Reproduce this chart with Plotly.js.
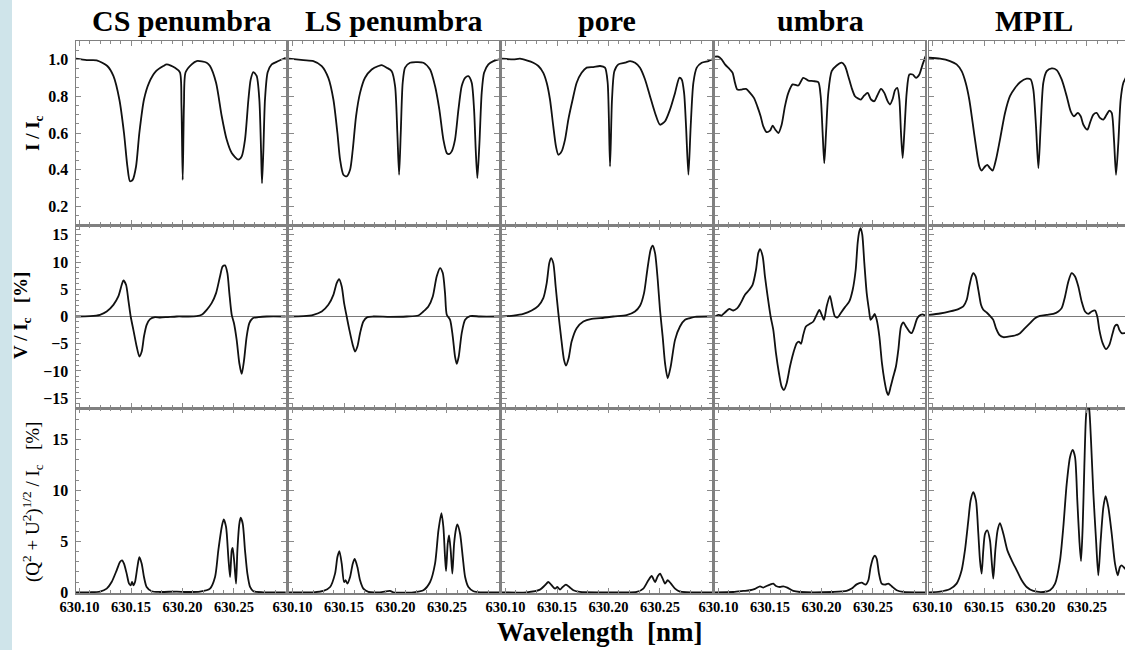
<!DOCTYPE html>
<html>
<head>
<meta charset="utf-8">
<script src="https://cdn.plot.ly/plotly-3.0.1.min.js"></script>
<style>
html,body{margin:0;padding:0;background:#fff;overflow:hidden;}
#chart{width:1125px;height:650px;}
</style>
</head>
<body>
<div id="chart"></div>
<script>
// ---------- data: [wavelength (nm), value] ----------
const columnTitles = ['CS penumbra', 'LS penumbra', 'pore', 'umbra', 'MPIL'];
const xTickVals = [630.10, 630.15, 630.20, 630.25];
const xTickText = ['630.10', '630.15', '630.20', '630.25'];

// Row 1: I / Ic
const CS_I = [[630.0966,1.004],[630.1070,0.996],[630.1167,0.995],[630.1270,0.964],[630.1329,0.910],[630.1387,0.782],[630.1432,0.600],[630.1465,0.418],[630.1490,0.338],[630.1516,0.345],[630.1549,0.418],[630.1581,0.600],[630.1626,0.782],[630.1675,0.873],[630.1743,0.936],[630.1814,0.964],[630.1847,0.973],[630.1927,0.955],[630.1975,0.930],[630.1990,0.750],[630.2002,0.345],[630.2014,0.750],[630.2030,0.930],[630.2089,0.973],[630.2138,0.991],[630.2235,0.982],[630.2267,0.964],[630.2326,0.873],[630.2381,0.691],[630.2429,0.564],[630.2478,0.491],[630.2542,0.455],[630.2575,0.473],[630.2607,0.564],[630.2640,0.782],[630.2662,0.890],[630.2688,0.931],[630.2720,0.910],[630.2746,0.782],[630.2763,0.500],[630.2772,0.327],[630.2785,0.500],[630.2801,0.782],[630.2827,0.930],[630.2866,0.973],[630.2931,0.991],[630.3002,1.009]];
const LS_I = [[630.0966,1.004],[630.1106,0.996],[630.1203,0.991],[630.1284,0.964],[630.1348,0.900],[630.1397,0.782],[630.1436,0.600],[630.1462,0.455],[630.1494,0.373],[630.1526,0.364],[630.1559,0.400],[630.1585,0.509],[630.1617,0.691],[630.1656,0.818],[630.1704,0.900],[630.1769,0.945],[630.1834,0.964],[630.1866,0.969],[630.1915,0.955],[630.1963,0.936],[630.1996,0.855],[630.2018,0.600],[630.2035,0.373],[630.2051,0.600],[630.2070,0.873],[630.2093,0.955],[630.2141,0.982],[630.2206,0.985],[630.2271,0.982],[630.2336,0.945],[630.2384,0.855],[630.2426,0.727],[630.2465,0.564],[630.2498,0.491],[630.2520,0.485],[630.2546,0.500],[630.2578,0.564],[630.2611,0.727],[630.2643,0.855],[630.2676,0.900],[630.2708,0.909],[630.2740,0.873],[630.2763,0.727],[630.2779,0.509],[630.2795,0.355],[630.2815,0.545],[630.2837,0.818],[630.2860,0.927],[630.2902,0.973],[630.2951,0.991],[630.3006,1.000]];
const PORE_I = [[630.0966,1.004],[630.1076,1.000],[630.1141,1.004],[630.1205,0.995],[630.1270,0.982],[630.1319,0.964],[630.1367,0.927],[630.1400,0.873],[630.1432,0.782],[630.1464,0.636],[630.1490,0.527],[630.1513,0.482],[630.1545,0.500],[630.1578,0.564],[630.1610,0.673],[630.1652,0.782],[630.1691,0.873],[630.1739,0.927],[630.1788,0.955],[630.1853,0.958],[630.1918,0.964],[630.1966,0.955],[630.1992,0.873],[630.2015,0.418],[630.2034,0.782],[630.2057,0.936],[630.2096,0.973],[630.2160,0.982],[630.2209,0.991],[630.2258,0.982],[630.2306,0.955],[630.2355,0.891],[630.2403,0.800],[630.2452,0.709],[630.2500,0.645],[630.2549,0.664],[630.2597,0.727],[630.2646,0.818],[630.2688,0.900],[630.2711,0.891],[630.2734,0.818],[630.2753,0.636],[630.2776,0.373],[630.2798,0.636],[630.2824,0.873],[630.2857,0.955],[630.2905,0.982],[630.2970,0.991],[630.3009,1.000]];
const UMBRA_I = [[630.0966,1.015],[630.0998,1.015],[630.1030,1.000],[630.1063,0.973],[630.1111,0.945],[630.1137,0.927],[630.1160,0.873],[630.1183,0.836],[630.1225,0.836],[630.1267,0.840],[630.1306,0.818],[630.1344,0.791],[630.1377,0.745],[630.1409,0.691],[630.1435,0.636],[630.1467,0.605],[630.1500,0.613],[630.1526,0.640],[630.1552,0.618],[630.1581,0.600],[630.1613,0.645],[630.1645,0.745],[630.1678,0.818],[630.1720,0.864],[630.1775,0.858],[630.1823,0.900],[630.1872,0.885],[630.1921,0.882],[630.1969,0.876],[630.1992,0.800],[630.2011,0.600],[630.2027,0.436],[630.2044,0.600],[630.2066,0.818],[630.2099,0.936],[630.2147,0.967],[630.2196,0.982],[630.2228,0.964],[630.2260,0.909],[630.2293,0.845],[630.2325,0.800],[630.2358,0.787],[630.2383,0.782],[630.2416,0.804],[630.2448,0.818],[630.2481,0.782],[630.2513,0.773],[630.2542,0.804],[630.2578,0.840],[630.2610,0.818],[630.2642,0.773],[630.2665,0.755],[630.2691,0.785],[630.2714,0.833],[630.2736,0.845],[630.2756,0.782],[630.2772,0.600],[630.2788,0.464],[630.2804,0.600],[630.2827,0.818],[630.2853,0.918],[630.2885,0.918],[630.2918,0.900],[630.2950,0.918],[630.2982,0.973],[630.3011,1.018]];
const MPIL_I = [[630.0966,1.009],[630.1073,1.004],[630.1170,0.991],[630.1234,0.973],[630.1283,0.936],[630.1322,0.873],[630.1357,0.782],[630.1390,0.655],[630.1422,0.527],[630.1455,0.418],[630.1477,0.396],[630.1510,0.418],[630.1532,0.427],[630.1558,0.409],[630.1584,0.396],[630.1616,0.455],[630.1655,0.564],[630.1704,0.709],[630.1752,0.800],[630.1801,0.845],[630.1850,0.876],[630.1914,0.895],[630.1953,0.891],[630.1979,0.836],[630.2005,0.636],[630.2028,0.409],[630.2050,0.636],[630.2076,0.873],[630.2109,0.936],[630.2157,0.951],[630.2206,0.942],[630.2254,0.891],[630.2303,0.800],[630.2342,0.718],[630.2374,0.691],[630.2410,0.709],[630.2439,0.691],[630.2465,0.645],[630.2504,0.618],[630.2529,0.655],[630.2562,0.700],[630.2594,0.709],[630.2626,0.682],[630.2659,0.673],[630.2691,0.700],[630.2717,0.722],[630.2740,0.709],[630.2762,0.564],[630.2782,0.373],[630.2804,0.545],[630.2827,0.782],[630.2853,0.873],[630.2869,0.891],[630.2900,0.930]];

// Row 2: V / Ic [%]
const CS_V = [[630.0966,0],[630.1102,0.06],[630.1199,0.31],[630.1264,0.92],[630.1329,2.14],[630.1377,3.68],[630.1410,5.82],[630.1426,6.62],[630.1452,5.82],[630.1474,3.06],[630.1497,0],[630.1523,-2.45],[630.1555,-5.51],[630.1581,-7.35],[630.1604,-6.43],[630.1626,-3.68],[630.1652,-1.53],[630.1685,-0.49],[630.1733,-0.12],[630.1782,-0.18],[630.1847,-0.12],[630.1944,0],[630.2041,0],[630.2138,0.06],[630.2186,0.31],[630.2235,1.23],[630.2283,2.45],[630.2326,4.29],[630.2364,7.35],[630.2390,9.19],[630.2413,9.38],[630.2436,7.97],[630.2455,4.29],[630.2478,0.31],[630.2500,-1.23],[630.2526,-4.29],[630.2552,-8.58],[630.2575,-10.54],[630.2598,-7.97],[630.2623,-3.68],[630.2649,-1.23],[630.2682,-0.31],[630.2737,-0.12],[630.2818,0],[630.3002,0]];
const LS_V = [[630.0966,0],[630.1106,0.06],[630.1203,0.31],[630.1284,0.92],[630.1348,2.14],[630.1397,3.98],[630.1429,6.13],[630.1452,6.86],[630.1478,5.51],[630.1501,2.45],[630.1526,0],[630.1552,-2.45],[630.1585,-5.21],[630.1607,-6.43],[630.1630,-5.51],[630.1656,-3.06],[630.1688,-0.92],[630.1727,-0.12],[630.1785,0],[630.1947,-0.06],[630.2109,0],[630.2222,0.18],[630.2271,0.92],[630.2319,1.84],[630.2362,3.68],[630.2400,7.35],[630.2433,8.88],[630.2459,7.97],[630.2481,4.29],[630.2498,0.31],[630.2530,-0.61],[630.2556,-3.68],[630.2578,-7.35],[630.2595,-8.70],[630.2614,-7.35],[630.2643,-3.06],[630.2676,-0.61],[630.2724,0.06],[630.2821,0],[630.3006,0]];
const PORE_V = [[630.0966,0],[630.1076,0.18],[630.1173,0.49],[630.1254,1.10],[630.1319,1.96],[630.1367,3.37],[630.1400,6.13],[630.1425,9.80],[630.1442,10.72],[630.1464,9.80],[630.1487,5.51],[630.1513,0.61],[630.1539,-3.68],[630.1568,-7.97],[630.1587,-9.01],[630.1613,-7.66],[630.1642,-4.60],[630.1691,-2.14],[630.1756,-0.92],[630.1837,-0.43],[630.1918,-0.31],[630.2047,0],[630.2176,0.25],[630.2257,0.92],[630.2306,1.96],[630.2345,4.29],[630.2377,8.58],[630.2409,12.25],[630.2429,12.99],[630.2452,11.64],[630.2478,6.74],[630.2500,1.23],[630.2526,-3.68],[630.2549,-8.58],[630.2575,-11.34],[630.2604,-9.19],[630.2646,-4.29],[630.2694,-1.84],[630.2743,-0.61],[630.2791,-0.31],[630.2840,-0.06],[630.3009,0]];
const UMBRA_V = [[630.0966,0],[630.0998,0.31],[630.1030,0.18],[630.1063,0.74],[630.1105,1.41],[630.1144,1.10],[630.1183,1.53],[630.1215,2.45],[630.1257,3.98],[630.1299,4.90],[630.1331,5.82],[630.1364,8.58],[630.1386,11.64],[630.1403,12.38],[630.1429,11.03],[630.1451,7.35],[630.1477,3.68],[630.1506,0],[630.1532,-2.45],[630.1558,-6.74],[630.1587,-10.42],[630.1613,-12.87],[630.1636,-13.48],[630.1662,-12.25],[630.1694,-9.19],[630.1726,-6.74],[630.1759,-4.90],[630.1781,-4.60],[630.1801,-5.02],[630.1823,-3.37],[630.1849,-1.84],[630.1888,-1.35],[630.1921,-0.92],[630.1953,0.31],[630.1979,1.23],[630.2002,0.31],[630.2024,-0.61],[630.2050,1.84],[630.2082,3.80],[630.2105,1.84],[630.2131,0],[630.2157,-0.18],[630.2186,0.61],[630.2228,1.72],[630.2270,2.76],[630.2303,4.90],[630.2332,8.58],[630.2351,13.48],[630.2367,15.63],[630.2380,16.24],[630.2396,15.01],[630.2416,9.80],[630.2439,4.29],[630.2461,1.23],[630.2477,-0.61],[630.2497,-0.12],[630.2516,0.49],[630.2536,-0.61],[630.2562,-3.68],[630.2587,-8.58],[630.2610,-11.64],[630.2633,-13.79],[630.2649,-14.40],[630.2672,-12.87],[630.2697,-11.03],[630.2723,-9.19],[630.2746,-6.13],[630.2772,-1.84],[630.2795,-1.10],[630.2820,-1.84],[630.2853,-2.76],[630.2875,-3.06],[630.2898,-2.14],[630.2930,-0.31],[630.2963,0.31],[630.2995,0.31],[630.3011,0]];
const MPIL_V = [[630.0966,0.31],[630.1073,0.55],[630.1170,0.92],[630.1251,1.35],[630.1299,1.84],[630.1332,3.06],[630.1357,5.51],[630.1380,7.35],[630.1396,7.97],[630.1419,7.35],[630.1445,4.90],[630.1471,2.14],[630.1493,1.23],[630.1526,0.74],[630.1558,0.12],[630.1590,-0.61],[630.1616,-2.14],[630.1649,-3.37],[630.1688,-3.80],[630.1736,-3.68],[630.1801,-3.49],[630.1850,-3.06],[630.1898,-2.14],[630.1947,-1.23],[630.1995,-0.31],[630.2044,0.12],[630.2109,0.31],[630.2173,0.49],[630.2222,0.92],[630.2254,1.53],[630.2287,3.68],[630.2319,6.43],[630.2351,7.97],[630.2384,7.35],[630.2416,5.51],[630.2448,2.76],[630.2481,0.92],[630.2513,0.49],[630.2545,0.92],[630.2578,1.10],[630.2600,0],[630.2620,-2.45],[630.2652,-4.90],[630.2684,-6.00],[630.2717,-5.21],[630.2749,-3.06],[630.2772,-1.72],[630.2795,-1.53],[630.2814,-2.45],[630.2837,-3.06],[630.2869,-3.06],[630.2900,-3.00]];

// Row 3: (Q^2+U^2)^1/2 / Ic [%]
const CS_Q = [[630.0966,0],[630.1102,0],[630.1199,0.07],[630.1264,0.36],[630.1312,1.01],[630.1361,2.16],[630.1393,2.97],[630.1413,3.14],[630.1432,2.81],[630.1458,1.83],[630.1481,0.85],[630.1497,0.69],[630.1510,1.01],[630.1523,0.69],[630.1539,1.01],[630.1562,2.48],[630.1581,3.46],[630.1604,2.81],[630.1626,1.50],[630.1652,0.52],[630.1701,0.10],[630.1782,0.03],[630.1944,0.07],[630.2041,0.03],[630.2170,0.07],[630.2267,0.36],[630.2316,1.50],[630.2348,4.12],[630.2381,6.41],[630.2400,7.16],[630.2423,6.41],[630.2445,3.46],[630.2462,1.50],[630.2478,4.12],[630.2487,4.35],[630.2504,2.81],[630.2520,0.85],[630.2533,4.12],[630.2552,6.73],[630.2565,7.32],[630.2585,6.73],[630.2607,4.12],[630.2630,1.83],[630.2656,0.52],[630.2688,0.10],[630.2785,0],[630.3002,0]];
const LS_Q = [[630.0966,0],[630.1203,0],[630.1300,0.13],[630.1365,0.52],[630.1413,1.83],[630.1436,3.46],[630.1455,4.05],[630.1478,2.81],[630.1501,1.01],[630.1517,1.18],[630.1533,0.85],[630.1559,1.50],[630.1585,2.81],[630.1604,3.27],[630.1630,2.48],[630.1656,1.18],[630.1688,0.36],[630.1737,0.03],[630.1850,0],[630.1947,0.13],[630.1980,0],[630.2174,0],[630.2271,0.20],[630.2336,1.01],[630.2384,2.81],[630.2417,6.08],[630.2446,7.78],[630.2465,6.41],[630.2481,3.46],[630.2491,2.09],[630.2507,4.77],[630.2520,5.59],[630.2536,4.12],[630.2552,1.83],[630.2569,4.77],[630.2588,6.24],[630.2601,6.67],[630.2627,5.75],[630.2653,3.46],[630.2676,1.50],[630.2708,0.52],[630.2757,0.10],[630.2821,0],[630.3006,0]];
const PORE_Q = [[630.0966,0],[630.1205,0],[630.1335,0.26],[630.1383,0.69],[630.1416,1.01],[630.1448,0.69],[630.1481,0.36],[630.1503,0.52],[630.1529,0.26],[630.1555,0.52],[630.1587,0.75],[630.1620,0.52],[630.1659,0.20],[630.1723,0.03],[630.2047,0],[630.2274,0.03],[630.2338,0.36],[630.2387,1.18],[630.2419,1.60],[630.2452,1.01],[630.2478,1.57],[630.2500,1.83],[630.2526,1.34],[630.2549,0.85],[630.2575,1.18],[630.2607,0.85],[630.2646,0.36],[630.2694,0.07],[630.3009,0]];
const UMBRA_Q = [[630.0966,0],[630.1144,0.03],[630.1241,0.13],[630.1306,0.20],[630.1354,0.33],[630.1403,0.59],[630.1435,0.46],[630.1467,0.62],[630.1506,0.78],[630.1532,0.85],[630.1558,0.62],[630.1597,0.52],[630.1629,0.59],[630.1668,0.46],[630.1726,0.13],[630.1791,0.03],[630.2115,0.03],[630.2244,0.13],[630.2293,0.36],[630.2341,0.78],[630.2390,0.95],[630.2429,0.75],[630.2455,1.18],[630.2477,2.48],[630.2503,3.40],[630.2519,3.59],[630.2536,3.30],[630.2558,1.83],[630.2584,0.85],[630.2617,0.75],[630.2649,0.85],[630.2682,0.59],[630.2730,0.20],[630.2795,0.03],[630.3011,0]];
const MPIL_Q = [[630.0966,0],[630.1073,0.07],[630.1170,0.33],[630.1234,0.85],[630.1283,2.16],[630.1315,4.12],[630.1348,7.06],[630.1370,9.02],[630.1396,9.84],[630.1422,9.02],[630.1445,5.75],[630.1461,3.14],[630.1477,1.83],[630.1493,4.12],[630.1510,5.75],[630.1532,6.08],[630.1558,5.10],[630.1574,3.14],[630.1590,1.34],[630.1610,4.12],[630.1632,6.08],[630.1655,6.80],[630.1688,5.75],[630.1727,4.12],[630.1769,3.14],[630.1818,2.16],[630.1866,1.18],[630.1914,0.52],[630.1979,0.13],[630.2076,0.03],[630.2141,0.20],[630.2190,0.85],[630.2238,3.14],[630.2270,6.41],[630.2303,10.65],[630.2335,13.27],[630.2361,13.99],[630.2384,13.27],[630.2406,9.02],[630.2426,5.10],[630.2442,3.07],[630.2458,6.41],[630.2474,12.29],[630.2490,17.19],[630.2507,18.80],[630.2523,17.84],[630.2539,14.90],[630.2562,9.67],[630.2588,5.10],[630.2610,1.67],[630.2633,5.10],[630.2659,8.37],[630.2681,9.44],[630.2707,8.37],[630.2740,5.75],[630.2772,2.81],[630.2798,1.67],[630.2820,2.48],[630.2837,2.65],[630.2869,2.32],[630.2900,2.00]];

// ---------- layout geometry (pixels) ----------
const W = 1125, H = 650;
const colPx = [[76,286],[289,499],[502,712],[715,925],[929,1125]];
const rowPx = [[41,225],[225,408],[408,593]];
const xRangeFull = [630.0966, 630.3005];
const xRangeLast = [630.0966, 630.2869];
const yRanges = [[0.1, 1.1], [-16.8, 16.8], [-0.07, 18.1]];
const yMajor = [{tick0:0.2, dtick:0.2, fmt:'.1f'}, {tick0:-15, dtick:5, fmt:'d'}, {tick0:0, dtick:5, fmt:'d'}];
const yMinor = [0.05, 1, 1];

const panels = [
  [CS_I, LS_I, PORE_I, UMBRA_I, MPIL_I],
  [CS_V, LS_V, PORE_V, UMBRA_V, MPIL_V],
  [CS_Q, LS_Q, PORE_Q, UMBRA_Q, MPIL_Q]
];

const serif = '"Liberation Serif", "Times New Roman", Times, serif';
const frameColor = '#808080';
const tickColor = '#8a8a8a';

const traces = [];
const layout = {
  width: W, height: H,
  margin: {l:0, r:0, t:0, b:0},
  paper_bgcolor: '#ffffff',
  plot_bgcolor: '#ffffff',
  showlegend: false,
  font: {family: serif, color: '#000'},
  annotations: [],
  shapes: [{type:'rect', xref:'paper', yref:'paper', x0:0, x1:12/W, y0:0, y1:1,
            fillcolor:'#cfe4ea', line:{width:0}, layer:'below'}]
};

for (let r = 0; r < 3; r++) {
  for (let c = 0; c < 5; c++) {
    const n = r*5 + c + 1;
    const xa = n === 1 ? 'x' : 'x' + n;
    const ya = n === 1 ? 'y' : 'y' + n;
    const pts = panels[r][c];
    traces.push({
      type: 'scatter', mode: 'lines',
      x: pts.map(p => p[0]), y: pts.map(p => p[1]),
      xaxis: xa, yaxis: ya,
      line: {color: '#111', width: 1.8, shape: 'spline', smoothing: 0.7},
      hoverinfo: 'skip'
    });
    const last = (c === 4);
    layout['xaxis' + (n === 1 ? '' : n)] = {
      domain: [colPx[c][0]/W, colPx[c][1]/W],
      range: last ? xRangeLast : xRangeFull,
      anchor: ya,
      showgrid: false, zeroline: false,
      showline: true, linecolor: frameColor, linewidth: 1.5,
      mirror: 'allticks',
      ticks: 'inside', ticklen: 5, tickwidth: 1, tickcolor: tickColor,
      tickmode: 'array', tickvals: xTickVals, ticktext: xTickText,
      showticklabels: r === 2,
      tickfont: {family: serif, size: 14.5, color: '#000', weight: 'bold'},
      minor: {ticks: 'inside', ticklen: 3, tickcolor: tickColor, tickwidth: 1, dtick: 0.01, tick0: 630.10, showgrid: false},
      fixedrange: true
    };
    layout['yaxis' + (n === 1 ? '' : n)] = {
      domain: [1 - rowPx[r][1]/H, 1 - rowPx[r][0]/H],
      range: yRanges[r],
      anchor: xa,
      showgrid: false,
      zeroline: r === 1, zerolinecolor: '#7a7a7a', zerolinewidth: 1,
      showline: true, linecolor: frameColor, linewidth: 1.5,
      mirror: last ? false : 'allticks',
      ticks: 'inside', ticklen: 5, tickwidth: 1, tickcolor: tickColor,
      tickmode: 'linear', tick0: yMajor[r].tick0, dtick: yMajor[r].dtick,
      tickformat: yMajor[r].fmt,
      showticklabels: c === 0,
      ticklabelstandoff: 3,
      tickfont: {family: serif, size: 16, color: '#000', weight: 'bold'},
      minor: {ticks: 'inside', ticklen: 3, tickcolor: tickColor, tickwidth: 1, dtick: yMinor[r], showgrid: false},
      fixedrange: true
    };
  }
}

// column titles
const titleCenters = [181, 394, 607, 820, 1034];
columnTitles.forEach((t, i) => {
  layout.annotations.push({
    xref: 'paper', yref: 'paper', x: titleCenters[i]/W, y: 1 - 21/H,
    xanchor: 'center', yanchor: 'middle', showarrow: false,
    text: '<b>' + t + '</b>',
    font: {family: serif, size: 30, color: '#000', weight: 'bold'}
  });
});

// y-axis titles
const yTitles = [
  {text: '<b>I / I<sub>c</sub></b>', x: 34, y: 133, size: 19},
  {text: '<b>V / I<sub>c</sub>\u00a0\u00a0 [%]</b>', x: 22, y: 316, size: 19},
  {text: '(Q<sup>2</sup> + U<sup>2</sup>)<sup>1/2</sup> / I<sub>c</sub>\u00a0\u00a0 [%]', x: 32, y: 502, size: 19}
];
yTitles.forEach(t => {
  layout.annotations.push({
    xref: 'paper', yref: 'paper', x: t.x/W, y: 1 - t.y/H,
    xanchor: 'center', yanchor: 'middle', showarrow: false, textangle: -90,
    text: t.text, font: {family: serif, size: t.size, color: '#000'}
  });
});

// x-axis title
layout.annotations.push({
  xref: 'paper', yref: 'paper', x: 600/W, y: 1 - 632/H,
  xanchor: 'center', yanchor: 'middle', showarrow: false,
  text: '<b>Wavelength\u00a0 [nm]</b>',
  font: {family: serif, size: 27, color: '#000', weight: 'bold'}
});

Plotly.newPlot('chart', traces, layout, {staticPlot: true, displayModeBar: false});
</script>
</body>
</html>
